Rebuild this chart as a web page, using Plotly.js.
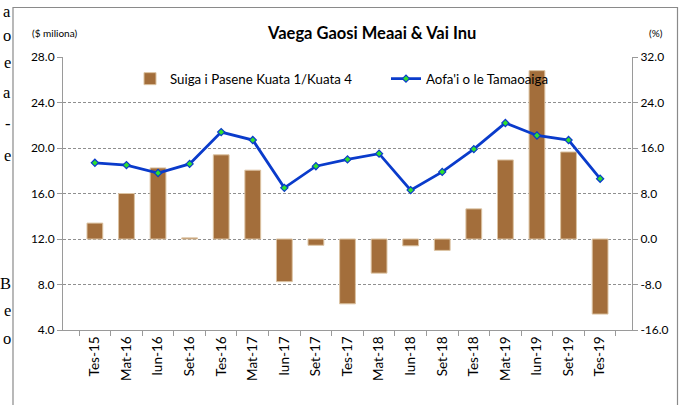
<!DOCTYPE html>
<html>
<head>
<meta charset="utf-8">
<script src="https://cdn.plot.ly/plotly-3.0.1.min.js"></script>
<style>
  html, body { margin: 0; padding: 0; background: #ffffff; }
  #chart { width: 687px; height: 405px; }
</style>
</head>
<body>
<div id="chart"></div>
<script>
// ---- Data ----
const quarters = ['Tes-15','Mat-16','Iun-16','Set-16','Tes-16','Mat-17','Iun-17','Set-17','Tes-17',
                  'Mat-18','Iun-18','Set-18','Tes-18','Mat-19','Iun-19','Set-19','Tes-19'];
// Suiga i Pasene Kuata 1/Kuata 4 (%), right axis
const changePct = [2.8, 8.0, 12.5, 0.2, 14.8, 12.1, -7.5, -1.1, -11.4,
                   -6.0, -1.2, -2.0, 5.3, 13.9, 29.6, 15.3, -13.2];
// Aofa'i o le Tamaoaiga ($ miliona), left axis
const totalValue = [18.7, 18.5, 17.8, 18.6, 21.4, 20.7, 16.5, 18.4, 19.0,
                    19.5, 16.3, 17.9, 19.9, 22.2, 21.1, 20.7, 17.3];
// Axis ticks
const leftTicks = [4, 8, 12, 16, 20, 24, 28];
const rightTicks = [-16, -8, 0, 8, 16, 24, 32];
const chartTitle = 'Vaega Gaosi Meaai &amp; Vai Inu';
const barName = 'Suiga i Pasene Kuata 1/Kuata 4';
const lineName = "Aofa'i o le Tamaoaiga";
const leftUnit = '($ miliona)';
const rightUnit = '(%)';
// cropped text fragments at the left edge of the picture
const edgeLetters = ['a','o','e','a','-','e','B','e','o'];
const edgeLetterY = [12, 35, 62, 92, 123, 155, 283, 310, 338];

// ---- Geometry helpers (plot area in pixels) ----
const W = 687, H = 405;
const PL = 63, PR = 632, PT = 57, PB = 330;
const px = x => (x - PL) / (PR - PL);
const py = y => (PB - y) / (PB - PT);

const FONT = 'Lato, "Liberation Sans", sans-serif';
const AXC = '#9a9a9a';

const traces = [
  {
    type: 'bar',
    x: quarters,
    y: changePct,
    name: barName,
    yaxis: 'y',
    legend: 'legend',
    marker: { color: '#A36E3B', line: { color: '#DCC3A2', width: 1 } },
    hoverinfo: 'x+y'
  },
  {
    type: 'scatter',
    mode: 'lines+markers',
    x: quarters,
    y: totalValue,
    name: lineName,
    yaxis: 'y2',
    legend: 'legend2',
    line: { color: '#0A3BCB', width: 2.8 },
    marker: { symbol: 'diamond', size: 5.5, color: '#2EE02E', line: { color: '#0A3BCB', width: 1.2 } },
    hoverinfo: 'x+y'
  }
];

const annotations = [
  { text: '<b>' + chartTitle + '</b>', xref: 'paper', yref: 'paper', x: px(371), y: py(33),
    xanchor: 'center', yanchor: 'middle', showarrow: false,
    font: { family: FONT, size: 16.5, color: '#000' } },
  { text: leftUnit, xref: 'paper', yref: 'paper', x: px(30), y: py(33),
    xanchor: 'left', yanchor: 'middle', showarrow: false,
    font: { family: FONT, size: 10, color: '#000' } },
  { text: rightUnit, xref: 'paper', yref: 'paper', x: px(656), y: py(33),
    xanchor: 'center', yanchor: 'middle', showarrow: false,
    font: { family: FONT, size: 10, color: '#000' } }
];
edgeLetters.forEach((ch, i) => {
  annotations.push({ text: ch, xref: 'paper', yref: 'paper', x: px(12), y: py(edgeLetterY[i]),
    xanchor: 'right', yanchor: 'middle', showarrow: false, borderpad: 0,
    font: { family: '"Liberation Serif", serif', size: 16.5, color: '#000' } });
});

const layout = {
  width: W, height: H,
  margin: { l: PL, r: W - PR, t: PT, b: H - PB, pad: 0 },
  paper_bgcolor: '#ffffff',
  plot_bgcolor: '#ffffff',
  font: { family: FONT, size: 12, color: '#000' },
  bargap: 0.5,
  showlegend: true,
  xaxis: {
    type: 'category',
    tickangle: -90,
    ticks: 'outside', tickson: 'boundaries', ticklen: 5, tickcolor: AXC,
    showline: true, linecolor: AXC, linewidth: 1,
    showgrid: false,
    tickfont: { family: FONT, size: 13.5, color: '#000' }
  },
  yaxis: {
    side: 'right',
    range: [-16, 32],
    tickvals: rightTicks,
    ticktext: rightTicks.map(v => v.toFixed(1)),
    ticks: 'outside', ticklen: 5, tickcolor: AXC,
    showline: true, linecolor: AXC, linewidth: 1,
    showgrid: true, gridcolor: '#8f8f8f', gridwidth: 1, griddash: '3px,2px',
    zeroline: false,
    tickfont: { family: FONT, size: 12, color: '#000' },
    fixedrange: true
  },
  yaxis2: {
    overlaying: 'y',
    side: 'left',
    range: [4, 28],
    tickvals: leftTicks,
    ticktext: leftTicks.map(v => v.toFixed(1)),
    ticks: 'outside', ticklen: 5, tickcolor: AXC,
    showline: true, linecolor: AXC, linewidth: 1,
    showgrid: false, zeroline: false,
    tickfont: { family: FONT, size: 12, color: '#000' },
    fixedrange: true
  },
  legend: {
    orientation: 'h', x: px(130), y: py(79), xanchor: 'left', yanchor: 'middle',
    bgcolor: 'rgba(0,0,0,0)', borderwidth: 0,
    font: { family: FONT, size: 13.3, color: '#000' }
  },
  legend2: {
    orientation: 'h', x: px(386), y: py(79), xanchor: 'left', yanchor: 'middle',
    bgcolor: 'rgba(0,0,0,0)', borderwidth: 0,
    font: { family: FONT, size: 13.3, color: '#000' }
  },
  annotations: annotations,
  shapes: [
    { type: 'rect', xref: 'paper', yref: 'paper', layer: 'below',
      x0: px(13), x1: px(677.5), y0: py(420), y1: py(7.5),
      line: { color: '#8a8a8a', width: 1.2 }, fillcolor: 'rgba(0,0,0,0)' }
  ]
};

Plotly.newPlot('chart', traces, layout, { displayModeBar: false, staticPlot: true });
</script>
</body>
</html>
